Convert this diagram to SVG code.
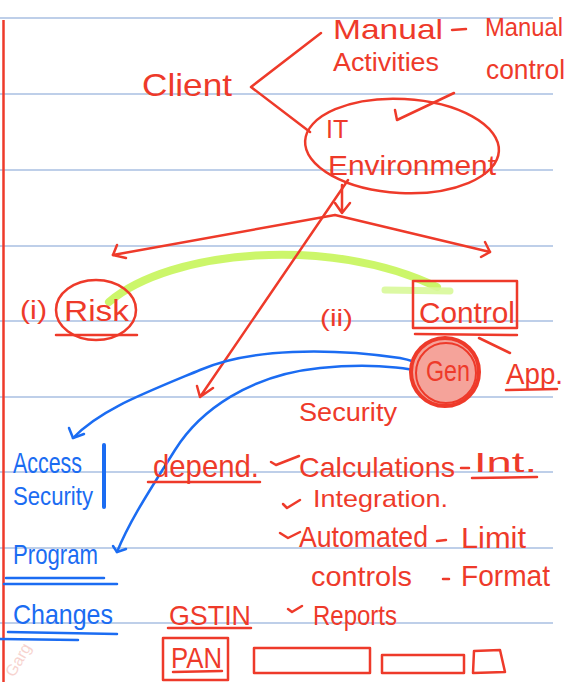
<svg xmlns="http://www.w3.org/2000/svg" width="571" height="682" viewBox="0 0 571 682">
<style>
.r{fill:#ee3a2a;font-family:"Liberation Sans","DejaVu Sans",sans-serif}
.b{fill:#1b6cf2;font-family:"Liberation Sans","DejaVu Sans",sans-serif}
.rs{fill:none;stroke:#ee3a2a;stroke-width:2.5;stroke-linecap:round;stroke-linejoin:round}
.bs{fill:none;stroke:#1b6cf2;stroke-width:2.5;stroke-linecap:round;stroke-linejoin:round}
.rule{stroke:#a9bfe2;stroke-width:1.5}
</style>
<rect width="571" height="682" fill="#ffffff"/>
<g id="ruling">
<line class="rule" x1="0" y1="18" x2="553" y2="18"/>
<line class="rule" x1="0" y1="94" x2="553" y2="94"/>
<line class="rule" x1="0" y1="170" x2="553" y2="170"/>
<line class="rule" x1="0" y1="246" x2="553" y2="246"/>
<line class="rule" x1="0" y1="321" x2="553" y2="321"/>
<line class="rule" x1="0" y1="397" x2="553" y2="397"/>
<line class="rule" x1="0" y1="472" x2="553" y2="472"/>
<line class="rule" x1="0" y1="548" x2="553" y2="548"/>
<line class="rule" x1="0" y1="623" x2="553" y2="623"/>
<line x1="3.5" y1="20" x2="3.5" y2="682" stroke="#ee3a2a" stroke-width="2.5"/>
</g>
<text x="14" y="678" transform="rotate(-60 14 678)" font-family="Liberation Sans,sans-serif" font-size="16" fill="#f3b7b0" opacity="0.6">Garg</text>
<g id="highlight">
<path d="M109,302 C170,250 330,235 437,287" fill="none" stroke="#c6f55a" stroke-width="8" stroke-linecap="round" opacity="0.9"/>
<line x1="385" y1="290" x2="450" y2="291" stroke="#d9f99a" stroke-width="7" stroke-linecap="round" opacity="0.9"/>
</g>
<g id="connectors">
<path class="rs" d="M321,33 L251,87 L310,132"/>
<path class="rs" d="M454,93 L397,120 M395,110 L397,120"/>
<path class="rs" d="M342,185 L342,213 M335,203 L342,213 L350,203"/>
<path class="rs" d="M113,255 L335,215 L490,252"/>
<path class="rs" d="M117,245 L113,255 L126,258"/>
<path class="rs" d="M485,242 L490,252 L481,257"/>
<path class="rs" d="M348,180 L200,397 M197,386 L200,397 L213,388"/>
<path class="rs" d="M479,338 L510,353"/>
<path class="bs" d="M432,380 C430,368 420,362 400,358 C330,348 250,348 200,370 C140,395 100,410 73,438"/>
<path class="bs" d="M69,428 L73,438 L84,434"/>
<path class="bs" d="M432,376 C425,370 380,362 320,368 C250,375 200,410 175,450 C150,490 130,520 117,552"/>
<path class="bs" d="M113,546 L117,552 L126,549"/>
</g>
<g id="client"><text class="r" x="142" y="96" font-size="32" textLength="90" lengthAdjust="spacingAndGlyphs">Client</text></g>
<g id="manual-activities">
<text class="r" x="333" y="39" font-size="28" textLength="110" lengthAdjust="spacingAndGlyphs">Manual</text>
<text class="r" x="333" y="71" font-size="25" textLength="106" lengthAdjust="spacingAndGlyphs">Activities</text>
<line class="rs" x1="452" y1="30" x2="466" y2="29"/>
</g>
<g id="manual-control">
<text class="r" x="485" y="36" font-size="26" textLength="78" lengthAdjust="spacingAndGlyphs">Manual</text>
<text class="r" x="486" y="79" font-size="28" textLength="79" lengthAdjust="spacingAndGlyphs">control</text>
</g>
<g id="it-environment">
<ellipse class="rs" cx="402" cy="146" rx="97" ry="47" transform="rotate(3 402 146)"/>
<text class="r" x="326" y="138" font-size="25">IT</text>
<text class="r" x="328" y="175" font-size="28" textLength="168" lengthAdjust="spacingAndGlyphs">Environment</text>
</g>
<g id="risk">
<text class="r" x="20" y="319" font-size="26" textLength="27" lengthAdjust="spacingAndGlyphs">(i)</text>
<ellipse class="rs" cx="96" cy="310" rx="40" ry="30" stroke-width="3.5"/>
<text class="r" x="64" y="321" font-size="30" textLength="65" lengthAdjust="spacingAndGlyphs">Risk</text>
<line class="rs" x1="56" y1="335" x2="137" y2="335"/>
</g>
<g id="control">
<text class="r" x="320" y="326" font-size="24" textLength="33" lengthAdjust="spacingAndGlyphs">(ii)</text>
<rect class="rs" x="413" y="281" width="104" height="47"/>
<text class="r" x="419" y="323" font-size="29" textLength="96" lengthAdjust="spacingAndGlyphs">Control</text>
<line class="rs" x1="415" y1="334" x2="517" y2="335"/>
</g>
<g id="gen">
<circle cx="445" cy="372" r="34" fill="#f5a39a" stroke="#ee3a2a" stroke-width="4"/>
<circle cx="446" cy="373" r="30" fill="none" stroke="#ee3a2a" stroke-width="2"/>
<text class="r" x="426" y="381" font-size="29" textLength="44" lengthAdjust="spacingAndGlyphs">Gen</text>
</g>
<g id="app">
<text class="r" x="506" y="384" font-size="30" textLength="57" lengthAdjust="spacingAndGlyphs">App.</text>
<line class="rs" x1="506" y1="390" x2="557" y2="389"/>
</g>
<g id="security"><text class="r" x="299" y="421" font-size="26" textLength="98" lengthAdjust="spacingAndGlyphs">Security</text></g>
<g id="access-security">
<text class="b" x="13" y="473" font-size="30" textLength="69" lengthAdjust="spacingAndGlyphs">Access</text>
<text class="b" x="13" y="505" font-size="26" textLength="80" lengthAdjust="spacingAndGlyphs">Security</text>
<line x1="104" y1="445" x2="104" y2="507" stroke="#1b6cf2" stroke-width="4" stroke-linecap="round"/>
</g>
<g id="program-changes">
<text class="b" x="13" y="564" font-size="28" textLength="85" lengthAdjust="spacingAndGlyphs">Program</text>
<line class="bs" x1="6" y1="578" x2="104" y2="578"/>
<line class="bs" x1="4" y1="584" x2="117" y2="584"/>
<text class="b" x="13" y="624" font-size="28" textLength="100" lengthAdjust="spacingAndGlyphs">Changes</text>
<line class="bs" x1="8" y1="632" x2="117" y2="634"/>
<line class="bs" x1="0" y1="639" x2="78" y2="640"/>
</g>
<g id="depend">
<text class="r" x="153" y="477" font-size="32" textLength="106" lengthAdjust="spacingAndGlyphs">depend.</text>
<line class="rs" x1="148" y1="482" x2="260" y2="482"/>
</g>
<g id="calculations">
<path class="rs" d="M271,462 L276,465 L299,456"/>
<text class="r" x="299" y="477" font-size="28" textLength="156" lengthAdjust="spacingAndGlyphs">Calculations</text>
<line class="rs" x1="461" y1="468" x2="469" y2="468"/>
<text class="r" x="474" y="472" font-size="28" textLength="63" lengthAdjust="spacingAndGlyphs">Int.</text>
<line class="rs" x1="472" y1="478" x2="537" y2="477"/>
</g>
<g id="integration">
<path class="rs" d="M283,504 L287,508 L300,500"/>
<text class="r" x="313" y="507" font-size="24" textLength="135" lengthAdjust="spacingAndGlyphs">Integration.</text>
</g>
<g id="automated">
<path class="rs" d="M280,533 L288,538 L300,532"/>
<text class="r" x="299" y="547" font-size="30" textLength="129" lengthAdjust="spacingAndGlyphs">Automated</text>
<text class="r" x="311" y="586" font-size="28" textLength="101" lengthAdjust="spacingAndGlyphs">controls</text>
<line class="rs" x1="437" y1="541" x2="446" y2="540"/>
<text class="r" x="461" y="548" font-size="30" textLength="65" lengthAdjust="spacingAndGlyphs">Limit</text>
<line class="rs" x1="443" y1="579" x2="449" y2="579"/>
<text class="r" x="461" y="586" font-size="30" textLength="89" lengthAdjust="spacingAndGlyphs">Format</text>
</g>
<g id="gstin">
<text class="r" x="169" y="625" font-size="28" textLength="82" lengthAdjust="spacingAndGlyphs">GSTIN</text>
<line class="rs" x1="168" y1="628" x2="251" y2="628"/>
</g>
<g id="reports">
<path class="rs" d="M288,609 L292,612 L302,606"/>
<text class="r" x="313" y="625" font-size="28" textLength="84" lengthAdjust="spacingAndGlyphs">Reports</text>
</g>
<g id="pan-boxes">
<rect class="rs" x="163" y="638" width="65" height="42"/>
<text class="r" x="171" y="668" font-size="30" textLength="51" lengthAdjust="spacingAndGlyphs">PAN</text>
<line class="rs" x1="173" y1="672" x2="222" y2="671"/>
<rect class="rs" x="254" y="648" width="116" height="25"/>
<rect class="rs" x="382" y="655" width="82" height="18"/>
<path class="rs" d="M473,673 L474,651 L500,650 L505,672 Z"/>
</g>
</svg>
